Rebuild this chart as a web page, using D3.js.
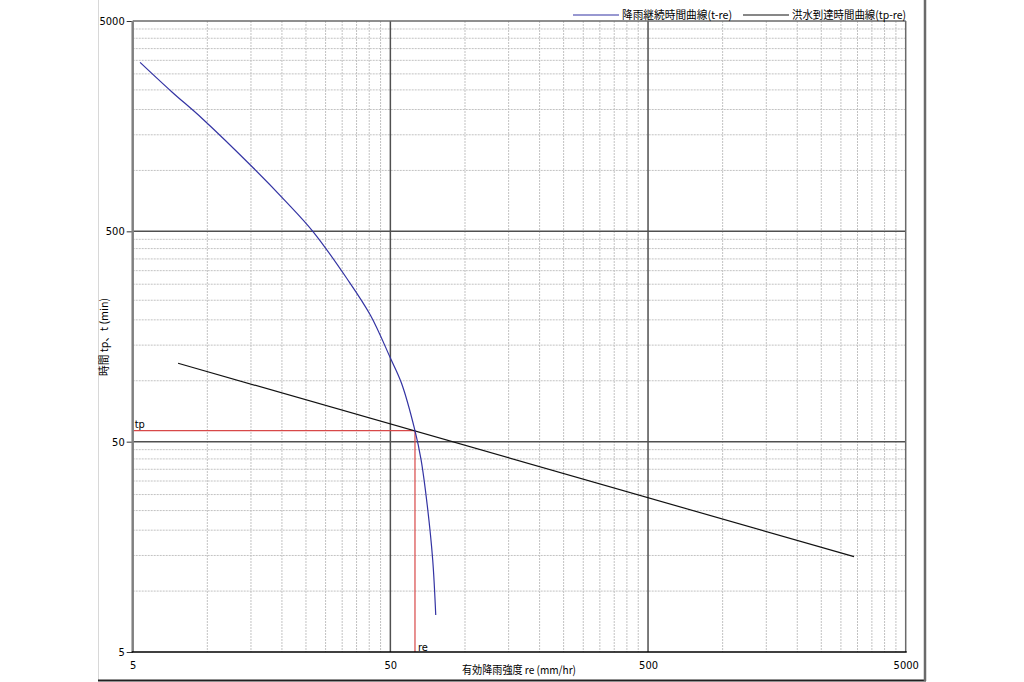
<!DOCTYPE html>
<html>
<head>
<meta charset="utf-8">
<script src="https://cdn.jsdelivr.net/npm/d3@7"></script>
<style>
body { margin: 0; background: #fff; }
svg { display: block; }
text { font-family: "DejaVu Sans Condensed", "DejaVu Sans", sans-serif; font-size: 11px; fill: #000; }
text.jp { font-family: "Noto Sans CJK JP", sans-serif; }
</style>
</head>
<body>
<div id="chart"></div>
<script>
// axis decades (both axes) and the minor grid steps inside each decade
var decades = [5, 50, 500, 5000];
var minorSteps = [2, 3, 4, 5, 6, 7, 8, 9, 10];

// rainfall duration curve t-re
var durationRe = [5.34, 7.1, 9.3, 14.7, 19.5, 25.0, 33.8, 41.8, 50, 55.2, 62.3, 65.8, 69.5, 73.0, 75.0];
var durationT  = [3180, 2300, 1720, 1000, 700, 500, 300, 200, 125, 95, 56.4, 41, 25, 13.7, 7.5];

// flood arrival time line tp-re
var arrivalRe = [7.5, 3150];
var arrivalT  = [118, 14.2];

// crossing point
var crossRe = [62.3];
var crossTp = [56.4];

var seriesNames = ['降雨継続時間曲線(t-re)', '洪水到達時間曲線(tp-re)'];
var xTitle = '有効降雨強度 re (mm/hr)';
var yTitle = '時間 tp、t (min)';

function runoff_chart(container) {
  var _chart = {};

  var _svg,
      _width = 1024, _height = 682,
      _left = 132.7, _right = 905.7, _top = 21, _bottom = 652,
      _minorShrink = 0.962,
      _x, _y;

  _svg = container.append('svg');

  _chart.render = function() {
    _svg.attr('width', _width).attr('height', _height);

    _x = d3.scaleLog().domain([5, 5000]).range([_left, _right]);
    _y = d3.scaleLog().domain([5, 5000]).range([_bottom, _top]);

    renderFrame();
    renderGrid();
    renderCross();
    renderCurves();
    renderAxes();
    renderLegend();
  };

  function minorValues() {
    var out = [];
    decades.slice(0, -1).forEach(function(lo) {
      minorSteps.forEach(function(k) { out.push({lo: lo, k: k}); });
    });
    return out;
  }

  // the source program squeezes its minor lines a little inside each decade
  function minorPos(scale, d) {
    var a = scale(d.lo), b = scale(d.lo * 10);
    return a + (b - a) * _minorShrink * Math.log10(d.k);
  }

  function renderFrame() {
    var g = _svg.append('g').attr('class', 'frame');
    g.append('line').attr('x1', 98.5).attr('x2', 98.5).attr('y1', 0).attr('y2', 681)
      .attr('stroke', '#d8d8d8');
    g.append('line').attr('x1', 98).attr('x2', 926).attr('y1', 680.5).attr('y2', 680.5)
      .attr('stroke', '#222').attr('stroke-width', 2);
    g.append('line').attr('x1', 925).attr('x2', 925).attr('y1', 0).attr('y2', 681)
      .attr('stroke', '#6a6a6a').attr('stroke-width', 2.5);
  }

  function renderGrid() {
    var g = _svg.append('g').attr('class', 'grid');
    var minors = minorValues();

    g.selectAll('line.vminor').data(minors).enter().append('line')
      .attr('class', 'vminor')
      .attr('x1', function(d) { return minorPos(_x, d); })
      .attr('x2', function(d) { return minorPos(_x, d); })
      .attr('y1', _top).attr('y2', _bottom)
      .attr('stroke', '#c2c2c2').attr('stroke-dasharray', '2,1');

    g.selectAll('line.hminor').data(minors).enter().append('line')
      .attr('class', 'hminor')
      .attr('y1', function(d) { return minorPos(_y, d); })
      .attr('y2', function(d) { return minorPos(_y, d); })
      .attr('x1', _left).attr('x2', _right)
      .attr('stroke', '#c2c2c2').attr('stroke-dasharray', '2,1');

    var majors = decades.slice(1, -1);
    g.selectAll('line.vmajor').data(majors).enter().append('line')
      .attr('x1', _x).attr('x2', _x)
      .attr('y1', _top).attr('y2', _bottom)
      .attr('stroke', '#505050').attr('stroke-width', 1.5);
    g.selectAll('line.hmajor').data(majors).enter().append('line')
      .attr('y1', _y).attr('y2', _y)
      .attr('x1', _left).attr('x2', _right)
      .attr('stroke', '#505050').attr('stroke-width', 1.5);

    // plot border
    g.append('line').attr('x1', _left).attr('x2', _right)
      .attr('y1', _y(5000)).attr('y2', _y(5000))
      .attr('stroke', '#6a6a6a').attr('stroke-width', 1.5);
    g.append('line').attr('x1', _x(5000)).attr('x2', _x(5000))
      .attr('y1', _top).attr('y2', _bottom)
      .attr('stroke', '#6a6a6a').attr('stroke-width', 1.5);
  }

  function renderCross() {
    var g = _svg.append('g').attr('class', 'cross');
    g.append('line')
      .attr('x1', _x(5)).attr('x2', _x(crossRe[0]))
      .attr('y1', _y(crossTp[0])).attr('y2', _y(crossTp[0]))
      .attr('stroke', '#d84848').attr('stroke-width', 1.2);
    g.append('line')
      .attr('x1', _x(crossRe[0])).attr('x2', _x(crossRe[0]))
      .attr('y1', _y(crossTp[0])).attr('y2', _y(5))
      .attr('stroke', '#d84848').attr('stroke-width', 1.2);
    g.append('text').attr('x', _x(5) + 2).attr('y', _y(crossTp[0]) - 3).text('tp');
    g.append('text').attr('x', _x(crossRe[0]) + 3).attr('y', _y(5) - 1).text('re');
  }

  function renderCurves() {
    var line = d3.line()
      .x(function(d) { return _x(d[0]); })
      .y(function(d) { return _y(d[1]); });

    _svg.append('path')
      .datum(d3.zip(arrivalRe, arrivalT))
      .attr('d', line)
      .attr('fill', 'none').attr('stroke', '#111').attr('stroke-width', 1.2);

    _svg.append('path')
      .datum(d3.zip(durationRe, durationT))
      .attr('d', line.curve(d3.curveCatmullRom.alpha(0.5)))
      .attr('fill', 'none').attr('stroke', '#3333a3').attr('stroke-width', 1.2);
  }

  function renderAxes() {
    var yAxis = _svg.append('g')
      .attr('transform', 'translate(' + _left + ',0)')
      .call(d3.axisLeft(_y).tickValues(decades).tickFormat(d3.format('d')).tickSize(6).tickPadding(2));
    var xAxis = _svg.append('g')
      .attr('transform', 'translate(0,' + _bottom + ')')
      .call(d3.axisBottom(_x).tickValues(decades).tickFormat(d3.format('d')).tickSize(0).tickPadding(9));
    [yAxis, xAxis].forEach(function(a) {
      a.select('.domain').remove();
      a.attr('font-family', null).attr('font-size', null);
      a.selectAll('.tick line').attr('stroke', '#333');
      a.selectAll('.tick text').attr('fill', '#000');
    });

    _svg.append('line').attr('x1', _left).attr('x2', _left)
      .attr('y1', _top).attr('y2', _bottom)
      .attr('stroke', '#808080').attr('stroke-width', 2.5);
    _svg.append('line').attr('x1', _left - 1).attr('x2', _right + 1)
      .attr('y1', _bottom).attr('y2', _bottom)
      .attr('stroke', '#000').attr('stroke-width', 1.5);

    _svg.append('text').attr('class', 'jp')
      .attr('text-anchor', 'middle')
      .attr('transform', 'translate(108,337) rotate(-90)')
      .attr('textLength', 78).attr('lengthAdjust', 'spacingAndGlyphs')
      .text(yTitle);
    _svg.append('text').attr('class', 'jp')
      .attr('text-anchor', 'middle')
      .attr('x', 519).attr('y', 674)
      .attr('textLength', 114).attr('lengthAdjust', 'spacingAndGlyphs')
      .text(xTitle);
  }

  function renderLegend() {
    var items = [
      {name: seriesNames[0], color: '#3333a3', x: 573, len: 110},
      {name: seriesNames[1], color: '#111', x: 743, len: 114}
    ];
    var g = _svg.append('g').attr('class', 'legend')
      .selectAll('g').data(items).enter().append('g')
      .attr('transform', function(d) { return 'translate(' + d.x + ',15)'; });
    g.append('line').attr('x1', 0).attr('x2', 46)
      .attr('stroke', function(d) { return d.color; }).attr('stroke-width', 1.2);
    g.append('text').attr('class', 'jp')
      .attr('x', 49).attr('y', 4)
      .attr('textLength', function(d) { return d.len; })
      .attr('lengthAdjust', 'spacingAndGlyphs')
      .text(function(d) { return d.name; });
  }

  _chart.width = function(w) {
    if(!arguments.length) {
      return _width;
    }
    _width = w;
    return _chart;
  };

  _chart.height = function(h) {
    if(!arguments.length) {
      return _height;
    }
    _height = h;
    return _chart;
  };

  return _chart;
}

var chart = runoff_chart(d3.select('#chart'));
chart.render();
</script>
</body>
</html>
